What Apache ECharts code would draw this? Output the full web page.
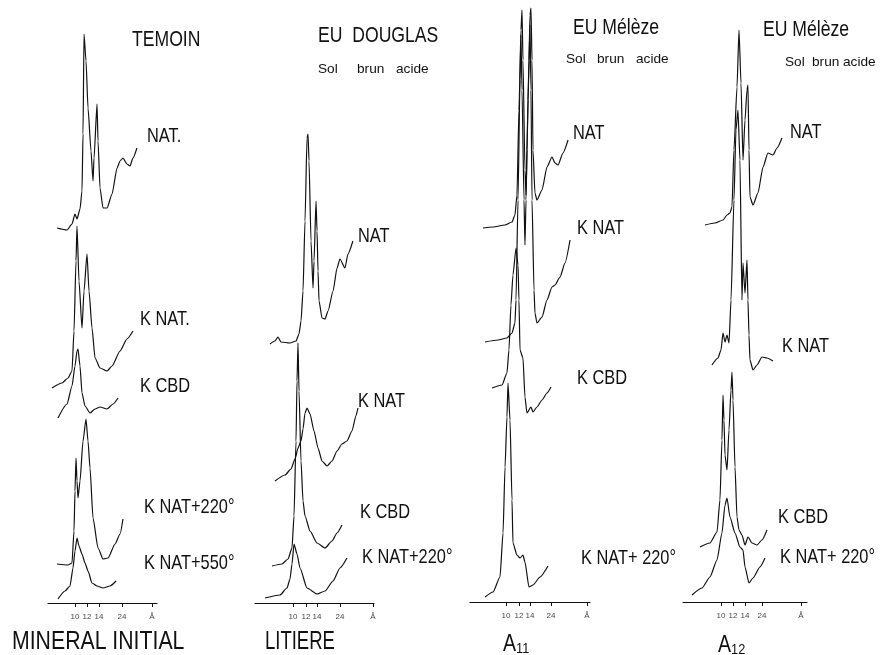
<!DOCTYPE html>
<html><head><meta charset="utf-8">
<script src="https://cdn.jsdelivr.net/npm/echarts@6/dist/echarts.min.js"></script>
<style>html,body{margin:0;padding:0;background:#fff}#c{width:887px;height:655px}</style>
</head><body><div id="c"></div>
<script>
// ---------- DATA (x = 2θ-like scan position in degrees, y = relative intensity, arbitrary units) ----------
const tickLabels = ['10', '12', '14', '24'];     // d-spacings (Å) marked on each axis
const unitLabel = 'Å';
// where each panel's tick marks sit on its scan axis
const tickPosTemoin  = [8.84, 7.52, 6.20, 3.67];
const tickPosLitiere = [8.84, 7.41, 6.20, 3.68];
const tickPosA11     = [8.84, 7.35, 6.08, 3.67];
const tickPosA12     = [8.84, 7.34, 5.84, 3.72];

const columnTitles = ['TEMOIN', 'EU  DOUGLAS', 'EU Mélèze', 'EU Mélèze'];
const subtitleWords = ['Sol', 'brun', 'acide'];
const sampleNames = ['MINERAL INITIAL', 'LITIERE', 'A11', 'A12'];

// Column 1 : TEMOIN / MINERAL INITIAL
const temoinNames = ['NAT.', 'K NAT.', 'K CBD', 'K NAT+220°', 'K NAT+550°'];
const temoinNat = [[10.82,375],[9.72,373],[9.17,379],[8.84,389],[8.62,384],[8.29,394],[8.07,412],[7.96,469],[7.85,569],[7.63,542],[7.41,495],[7.08,452],[6.86,422],[6.75,445],[6.42,499],[6.31,462],[6.09,415],[5.76,395],[5.32,395],[4.77,409],[4.22,435],[3.89,442],[3.57,445],[3.13,439],[2.80,437],[2.47,445],[2.03,455]];
const temoinKNat = [[11.37,215],[10.27,220],[9.61,225],[9.17,232],[8.95,272],[8.73,342],[8.62,377],[8.40,322],[8.07,275],[7.85,312],[7.52,349],[7.30,312],[6.97,275],[6.64,245],[6.09,235],[5.32,232],[4.77,237],[3.89,252],[3.13,264],[2.47,272]];
const temoinKCbd = [[10.71,185],[9.72,199],[9.17,217],[8.84,237],[8.62,252],[8.51,254],[8.29,237],[8.07,210],[7.74,197],[7.19,190],[6.64,194],[6.09,196],[5.32,194],[4.66,199],[4.11,205]];
const temoinK220 = [[10.82,39],[9.61,38],[9.17,40],[8.95,72],[8.84,112],[8.73,145],[8.62,122],[8.51,105],[8.29,122],[7.96,162],[7.63,184],[7.41,162],[7.19,135],[6.86,85],[6.31,55],[5.76,44],[5.21,45],[4.44,59],[3.89,69],[3.57,84]];
const temoinK550 = [[10.71,4],[9.94,12],[9.39,17],[9.06,35],[8.84,52],[8.62,65],[8.40,57],[8.07,49],[7.74,40],[7.41,32],[6.97,20],[6.42,17],[5.76,15],[4.99,17],[4.33,22]];

// Column 2 : EU DOUGLAS / LITIERE
const litiereNames = ['NAT', 'K NAT', 'K CBD', 'K NAT+220°'];
const litiereNat = [[11.37,259],[10.82,262],[10.49,266],[10.16,261],[9.17,260],[8.51,262],[8.18,269],[7.96,282],[7.74,312],[7.52,382],[7.30,465],[7.19,469],[7.08,442],[6.86,362],[6.64,315],[6.53,342],[6.31,402],[6.20,372],[6.09,332],[5.98,302],[5.65,285],[5.32,284],[4.99,292],[4.44,312],[4.00,335],[3.68,344],[3.13,335],[2.80,349],[2.26,362]];
const litiereKNat = [[10.82,122],[9.72,128],[9.06,134],[8.62,144],[8.29,155],[7.96,162],[7.74,174],[7.52,190],[7.30,195],[6.97,189],[6.53,172],[6.09,155],[5.65,142],[5.10,137],[4.55,142],[4.00,152],[3.46,159],[2.91,162],[2.36,172],[1.93,187],[1.70,195]];
const litiereKCbd = [[11.15,37],[10.05,39],[9.39,44],[8.95,55],[8.73,87],[8.51,162],[8.40,222],[8.29,260],[8.18,212],[7.96,142],[7.74,102],[7.52,87],[6.97,72],[6.20,60],[5.32,55],[4.55,62],[4.00,70],[3.46,78]];
const litiereK220 = [[11.92,5],[10.27,8],[9.50,15],[9.17,24],[8.95,39],[8.73,59],[8.40,49],[8.07,35],[7.30,15],[6.20,9],[5.32,12],[4.44,22],[3.68,35],[2.91,45]];

// Column 3 : EU Mélèze / A11
const a11Names = ['NAT', 'K NAT', 'K CBD', 'K NAT+ 220°'];
const a11Nat = [[11.48,374],[10.33,375],[8.95,377],[8.15,380],[7.81,387],[7.58,407],[7.35,492],[7.12,572],[7.00,592],[6.89,542],[6.66,432],[6.54,407],[6.43,452],[6.20,542],[6.08,587],[5.97,594],[5.85,542],[5.74,452],[5.51,409],[5.28,402],[4.70,412],[4.13,435],[3.55,445],[3.21,439],[2.86,437],[2.29,449],[1.71,462]];
const a11KNat = [[11.25,260],[9.76,262],[8.73,264],[8.15,269],[7.81,279],[7.69,302],[7.46,402],[7.23,522],[7.12,567],[7.00,512],[6.77,402],[6.66,357],[6.54,402],[6.31,502],[6.08,577],[5.97,512],[5.85,402],[5.62,312],[5.51,289],[5.28,279],[4.70,285],[4.13,302],[3.55,315],[3.21,317],[2.63,325],[2.06,339],[1.48,362]];
const a11KCbd = [[10.45,214],[9.30,217],[8.73,229],[8.50,252],[8.27,297],[8.04,327],[7.69,354],[7.46,337],[7.35,302],[7.23,252],[6.89,244],[6.66,205],[6.43,189],[5.97,195],[5.74,190],[5.28,195],[4.70,202],[4.13,209],[3.67,215]];
const a11K220 = [[11.25,5],[10.33,10],[9.53,25],[9.18,69],[8.95,135],[8.73,185],[8.61,219],[8.38,182],[8.15,102],[8.04,59],[7.58,47],[7.23,44],[6.89,47],[6.66,40],[6.20,15],[5.74,17],[4.93,25],[4.01,36]];

// Column 4 : EU Mélèze / A12
const a12Names = ['NAT', 'K NAT', 'K CBD', 'K NAT+ 220°'];
const a12Nat = [[10.84,377],[9.59,379],[8.59,382],[8.09,387],[7.72,389],[7.47,395],[7.22,452],[6.84,515],[6.59,572],[6.34,519],[6.09,442],[5.84,482],[5.59,512],[5.47,517],[5.34,452],[5.22,405],[4.84,397],[4.22,409],[3.59,435],[2.97,449],[2.34,447],[1.84,454],[1.22,464]];
const a12KNat = [[9.97,237],[9.22,244],[8.84,252],[8.59,269],[8.34,260],[8.09,267],[7.84,259],[7.59,302],[7.22,402],[6.97,472],[6.72,492],[6.47,442],[6.22,302],[6.09,339],[5.84,309],[5.59,342],[5.47,302],[5.34,267],[5.22,242],[4.84,232],[4.34,237],[3.72,245],[3.09,244],[2.34,241]];
const a12KCbd = [[11.47,55],[10.22,59],[9.34,70],[8.97,102],[8.72,162],[8.59,207],[8.47,182],[8.34,147],[8.09,132],[7.84,172],[7.59,212],[7.47,230],[7.34,202],[7.09,135],[6.84,85],[6.59,72],[6.22,67],[5.84,57],[5.47,65],[4.96,59],[4.34,57],[3.72,62],[3.09,72]];
const a12K220 = [[12.47,7],[11.22,14],[10.22,25],[9.34,42],[8.72,69],[8.34,97],[8.09,104],[7.72,85],[7.09,69],[6.47,55],[6.09,52],[5.84,35],[5.34,19],[4.84,24],[3.97,35],[3.34,44]];

// ---------- LAYOUT ----------
const FONT = '"Liberation Sans","Arimo",Arial,sans-serif';
const INK = '#111';

// pixel layout of each panel: axis ends, 10 Å tick, px per degree, unit mark
const panels = [
  {left: 48,  right: 157, p10: 75,  ppd: 9.1,  unitPx: 152, bottom: 603},
  {left: 255, right: 374, p10: 293, ppd: 9.1,  unitPx: 373, bottom: 603},
  {left: 470, right: 590, p10: 506, ppd: 8.7,  unitPx: 587, bottom: 602},
  {left: 683, right: 807, p10: 721, ppd: 8.0,  unitPx: 801, bottom: 602}
];
const panelTicks = [tickPosTemoin, tickPosLitiere, tickPosA11, tickPosA12];
const traces = [
  [temoinNat, temoinKNat, temoinKCbd, temoinK220, temoinK550],
  [litiereNat, litiereKNat, litiereKCbd, litiereK220],
  [a11Nat, a11KNat, a11KCbd, a11K220],
  [a12Nat, a12KNat, a12KCbd, a12K220]
];
const traceNames = [temoinNames, litiereNames, a11Names, a12Names];
const YMAX = 600;

const grids = [], xAxes = [], yAxes = [], series = [];
panels.forEach((p, i) => {
  const t = panelTicks[i];
  const max = t[0] + (p.p10 - p.left) / p.ppd;
  const min = t[0] - (p.right - p.p10) / p.ppd;
  const unitVal = t[0] - (p.unitPx - p.p10) / p.ppd;
  const custom = t.concat([unitVal]);
  const labelsHere = tickLabels.concat([unitLabel]);
  grids.push({left: p.left, width: p.right - p.left, top: p.bottom - YMAX, height: YMAX});
  xAxes.push({
    type: 'value', gridIndex: i, inverse: true, min: min, max: max,
    axisLine: {show: true, onZero: false, lineStyle: {color: INK, width: 1.2}},
    axisTick: {show: true, customValues: custom, length: 4, lineStyle: {color: INK, width: 1}},
    axisLabel: {show: false},
    splitLine: {show: false}
  });
  yAxes.push({type: 'value', gridIndex: i, min: 0, max: YMAX, show: false});
  traces[i].forEach((data, j) => {
    series.push({
      type: 'line', name: traceNames[i][j], xAxisIndex: i, yAxisIndex: i, data: data,
      showSymbol: false, smooth: 0.2, smoothMonotone: 'x',
      lineStyle: {color: INK, width: 1.2}, silent: true
    });
  });
  // tick labels, placed by the axis scale under each tick
  series.push({
    type: 'scatter', xAxisIndex: i, yAxisIndex: i, silent: true, symbolSize: 1,
    itemStyle: {color: 'rgba(0,0,0,0)'},
    data: custom.map((v, k) => ({value: [v, 0], name: labelsHere[k]})),
    label: {show: true, position: 'bottom', distance: 9, formatter: '{b}', color: INK, fontSize: 8, fontFamily: FONT}
  });
});

// text (layout only)
const txt = (text, x, y, size, sx) => ({
  type: 'text', x: x, y: y, scaleX: sx || 0.8, silent: true,
  style: {text: text, font: size + 'px ' + FONT, fill: INK, textAlign: 'left', textVerticalAlign: 'middle'}
});
const labelPos = [
  [[147,136],[140,319],[140,386],[144,507],[144,563]],
  [[358,236],[358,401],[360,512],[362,557]],
  [[573,133],[577,228],[577,378],[581,558]],
  [[790,132],[782,346],[778,517],[780,557]]
];
const titlePos = [[132,40],[318,36],[573,28],[763,30]];
const subWordPos = [null, [[318,69],[357,69],[396,69]], [[566,59],[597,59],[636,59]], [[785,62],[812,62],[843,62]]];
const graphics = [];
columnTitles.forEach((tt, i) => graphics.push(txt(tt, titlePos[i][0], titlePos[i][1], 22)));
subWordPos.forEach(ws => { if (ws) subtitleWords.forEach((w, k) => graphics.push(txt(w, ws[k][0], ws[k][1], 13, 1.05))); });
traceNames.forEach((names, i) => names.forEach((n, j) => graphics.push(txt(n, labelPos[i][j][0], labelPos[i][j][1], 21, 0.78))));
graphics.push(txt(sampleNames[0], 12, 642, 25, 0.85));
graphics.push(txt(sampleNames[1], 265, 642, 25, 0.74));
[[503, 645], [718, 646]].forEach((pos, k) => {
  const name = sampleNames[2 + k];
  graphics.push({
    type: 'text', x: pos[0], y: pos[1], scaleX: 0.85, silent: true,
    style: {
      text: '{a|' + name.charAt(0) + '}{s|' + name.slice(1) + '}',
      fill: INK, textAlign: 'left', textVerticalAlign: 'middle',
      rich: {a: {fontSize: 23, fontFamily: FONT, color: INK}, s: {fontSize: 15, fontFamily: FONT, color: INK, padding: [8, 0, 0, 0]}}
    }
  });
});

const chart = echarts.init(document.getElementById('c'), null, {renderer: 'canvas'});
chart.setOption({
  animation: false,
  backgroundColor: '#fff',
  grid: grids, xAxis: xAxes, yAxis: yAxes, series: series,
  graphic: graphics
});
</script></body></html>
